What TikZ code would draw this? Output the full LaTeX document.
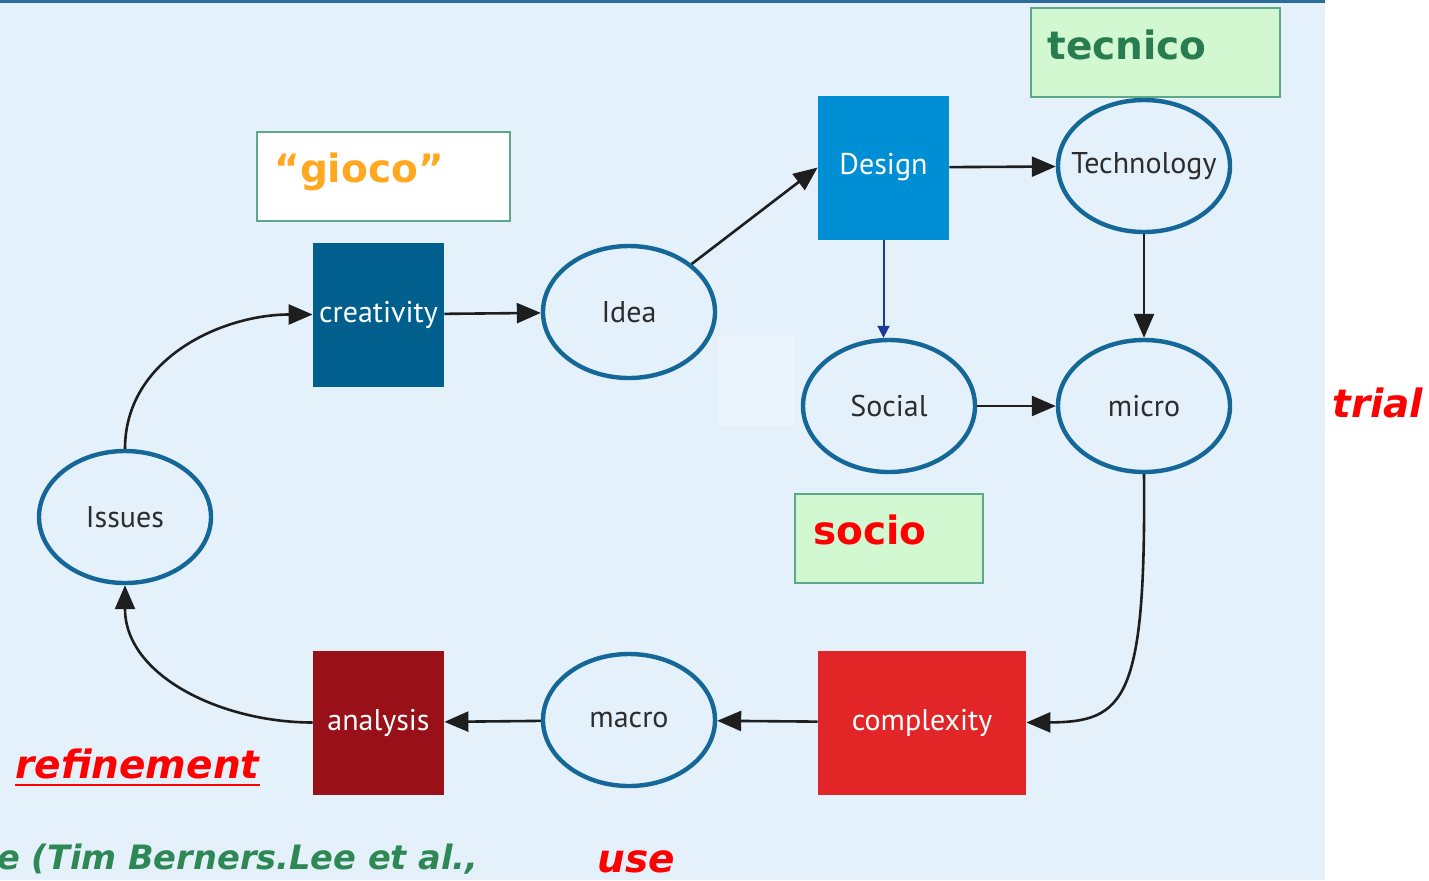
\documentclass[tikz,border=0pt]{standalone}
\usepackage{fontspec}
\setmainfont{PT Sans}
\newfontfamily\tagfont{DejaVu Sans}
\usetikzlibrary{arrows.meta, shapes.geometric, positioning}
\definecolor{paneblue}{RGB}{228, 241, 250}
\definecolor{topline}{RGB}{44, 108, 156}
\definecolor{ringblue}{RGB}{21, 103, 152}
\definecolor{inkgray}{RGB}{45, 45, 45}
\definecolor{flowink}{RGB}{30, 30, 30}
\definecolor{linkblue}{RGB}{26, 58, 154}
\definecolor{creablue}{RGB}{1, 95, 142}
\definecolor{designblue}{RGB}{0, 143, 213}
\definecolor{complexred}{RGB}{226, 37, 38}
\definecolor{analysisred}{RGB}{154, 16, 24}
\definecolor{taggreen}{RGB}{210, 248, 210}
\definecolor{tagedge}{RGB}{93, 168, 138}
\definecolor{tecgreen}{RGB}{40, 124, 80}
\definecolor{citegreen}{RGB}{46, 136, 86}
\definecolor{giocoorange}{RGB}{255, 168, 32}
\newcommand{\ringlabel}[1]{\hbox to 0pt{\hss#1\hss}}

\begin{document}
\begin{tikzpicture}[x=0.5pt, y=-0.5pt,
    ring/.style={ellipse, draw=ringblue, line width=2.2pt, minimum width=86pt, minimum height=66pt, inner sep=0pt, text=inkgray, font=\fontsize{15}{18}\selectfont},
    block/.style={rectangle, minimum width=65.5pt, minimum height=72pt, inner sep=0pt, text=white, font=\fontsize{15}{18}\selectfont},
    tagbox/.style={rectangle, draw=tagedge, line width=1pt, fill=taggreen, minimum height=44.5pt},
    tagword/.style={anchor=west, inner sep=0pt, font=\tagfont\bfseries\fontsize{19.5}{23}\selectfont},
    noteword/.style={anchor=west, inner sep=0pt, font=\tagfont\bfseries\itshape\fontsize{19.5}{23}\selectfont},
    flow/.style={draw=flowink, line width=1.3pt, -{Triangle[length=12pt, width=10pt]}}]
        % Panel
        \useasboundingbox (0,0) rectangle (1429,880);
        \clip (0,0) rectangle (1429,880);
        \fill[white] (0,0) rectangle (1429,880);
        \fill[paneblue] (0,0) rectangle (1325,880);
        \fill[paneblue!70!white] (718,336) rectangle (795,425);
        \draw[topline, line width=1.5pt] (0,1.5) -- (1325,1.5);

        % Tag boxes
        \node[tagbox, minimum width=124.5pt] (tecnicobox) at (1155.5,52.5) {};
        \node[tagbox, fill=white, minimum width=126.5pt] (giocobox) at (383.5,176.5) {};
        \node[tagbox, minimum width=94pt] (sociobox) at (889,538.5) {};
        \node[tagword, text=tecgreen] (tecnico) at (1047,45) {tecnico};
        \node[tagword, text=giocoorange] (gioco) at (274,172) {“gioco”};
        \node[tagword, text=red] (socio) at (813,530) {socio};

        % Blocks
        \node[block, fill=creablue] (creativity) at (378.5,314.5) {creativity};
        \node[block, fill=designblue] (design) at (883.5,167.5) {Design};
        \node[block, fill=complexred, minimum width=104pt] (complexity) at (922,722.5) {complexity};
        \node[block, fill=analysisred] (analysis) at (378.5,722.5) {analysis};

        % Rings
        \node[ring] (idea) at (629,312) {\ringlabel{Idea}};
        \node[ring] (technology) at (1144,166) {\ringlabel{Technology}};
        \node[ring] (social) at (889,406) {\ringlabel{Social}};
        \node[ring] (micro) at (1144,406) {\ringlabel{micro}};
        \node[ring] (issues) at (125,517) {\ringlabel{Issues}};
        \node[ring] (macro) at (629,720) {\ringlabel{macro}};

        % Cycle
        \draw[flow] (creativity) -- (idea);
        \draw[flow] (idea) -- (design.west);
        \draw[flow] (design) -- (technology);
        \draw[linkblue, line width=1pt, -{Triangle[length=6pt, width=6pt]}] (design.south) -- (design.south |- social.north);
        \draw[flow] (technology) -- (micro);
        \draw[flow] (social) -- (micro);
        \draw[flow] (micro.south) .. controls (1146,700) and (1125,722) .. (complexity.east);
        \draw[flow] (complexity) -- (macro);
        \draw[flow] (macro) -- (analysis);
        \draw[flow] (analysis.west) to[out=180, in=-90] (issues.south);
        \draw[flow] (issues.north) to[out=90, in=180] (creativity.west);

        % Notes
        \node[noteword, text=red] (trial) at (1332,403) {trial};
        \node[noteword, text=red] (refine) at (15,764) {refinement};
        \draw[red, line width=1pt] ([yshift=-3pt]refine.base west) -- ([yshift=-3pt]refine.base east);
        \node[noteword, text=red] (use) at (597,862) {use};
        \node[noteword, text=citegreen, font=\tagfont\bfseries\itshape\fontsize{16.8}{20}\selectfont] (cite) at (-3,859) {e (Tim Berners.Lee et al.,};
\end{tikzpicture}
\end{document}
